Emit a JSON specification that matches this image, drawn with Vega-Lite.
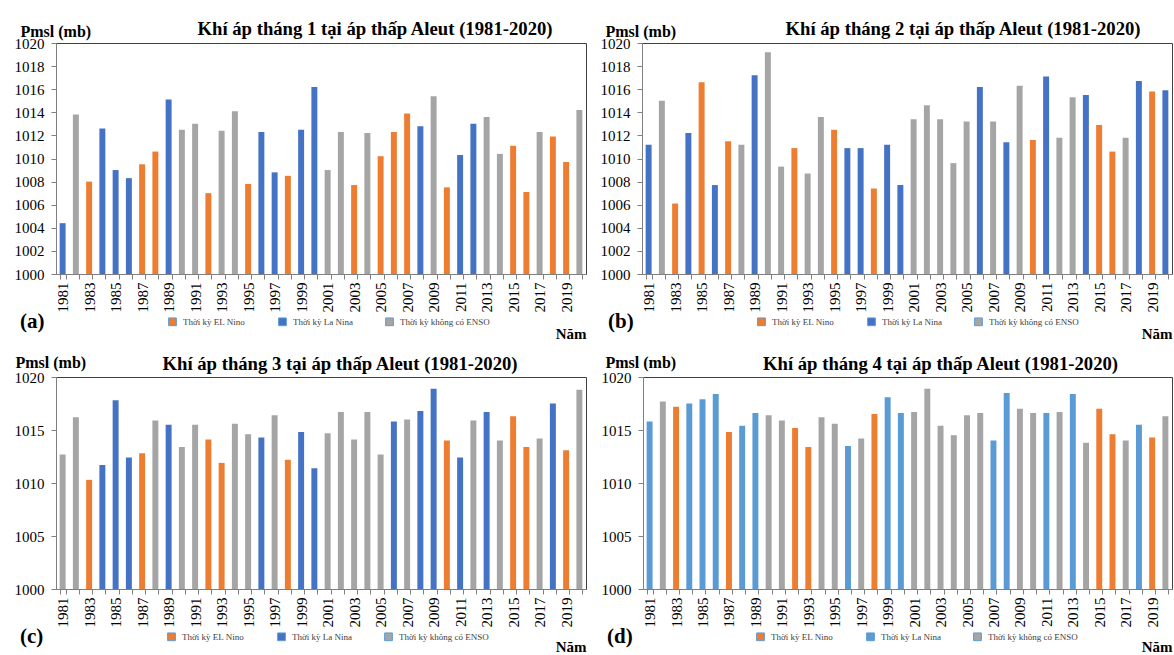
{
  "$schema": "https://vega.github.io/schema/vega-lite/v6.json",
  "padding": {"left": 13, "top": 19, "right": 0, "bottom": 0},
  "background": "white",
  "config": {
    "font": "Liberation Serif",
    "view": {"stroke": "#404040", "strokeWidth": 1},
    "axis": {"labelFont": "Liberation Serif", "labelFontSize": 15, "labelColor": "#000000", "titleFont": "Liberation Serif", "titleFontWeight": "bold", "titleColor": "#000000", "domainColor": "#808080", "tickColor": "#808080", "grid": false, "tickSize": 5},
    "title": {"font": "Liberation Serif", "fontSize": 18.7, "fontWeight": "bold", "color": "#000000", "frame": "group", "dy": 20},
    "legend": {"orient": "none", "direction": "horizontal", "titleOrient": "left", "titleFont": "Liberation Serif", "titleFontSize": 21, "titleFontWeight": "bold", "titleColor": "#000000", "titlePadding": 123, "symbolType": "square", "symbolSize": 60, "symbolStrokeColor": "#5B9BD5", "symbolStrokeWidth": 1, "labelFont": "Liberation Serif", "labelFontSize": 9, "labelColor": "#404040", "labelOffset": 6, "columnPadding": 30}
  },
  "datasets": {
    "m1": [
      {"nam": 1981, "p": 1004.4, "ky": "Thời kỳ La Nina"},
      {"nam": 1982, "p": 1013.8, "ky": "Thời kỳ không có ENSO"},
      {"nam": 1983, "p": 1008.0, "ky": "Thời kỳ EL Nino"},
      {"nam": 1984, "p": 1012.6, "ky": "Thời kỳ La Nina"},
      {"nam": 1985, "p": 1009.0, "ky": "Thời kỳ La Nina"},
      {"nam": 1986, "p": 1008.3, "ky": "Thời kỳ La Nina"},
      {"nam": 1987, "p": 1009.5, "ky": "Thời kỳ EL Nino"},
      {"nam": 1988, "p": 1010.6, "ky": "Thời kỳ EL Nino"},
      {"nam": 1989, "p": 1015.1, "ky": "Thời kỳ La Nina"},
      {"nam": 1990, "p": 1012.5, "ky": "Thời kỳ không có ENSO"},
      {"nam": 1991, "p": 1013.0, "ky": "Thời kỳ không có ENSO"},
      {"nam": 1992, "p": 1007.0, "ky": "Thời kỳ EL Nino"},
      {"nam": 1993, "p": 1012.4, "ky": "Thời kỳ không có ENSO"},
      {"nam": 1994, "p": 1014.1, "ky": "Thời kỳ không có ENSO"},
      {"nam": 1995, "p": 1007.8, "ky": "Thời kỳ EL Nino"},
      {"nam": 1996, "p": 1012.3, "ky": "Thời kỳ La Nina"},
      {"nam": 1997, "p": 1008.8, "ky": "Thời kỳ La Nina"},
      {"nam": 1998, "p": 1008.5, "ky": "Thời kỳ EL Nino"},
      {"nam": 1999, "p": 1012.5, "ky": "Thời kỳ La Nina"},
      {"nam": 2000, "p": 1016.2, "ky": "Thời kỳ La Nina"},
      {"nam": 2001, "p": 1009.0, "ky": "Thời kỳ không có ENSO"},
      {"nam": 2002, "p": 1012.3, "ky": "Thời kỳ không có ENSO"},
      {"nam": 2003, "p": 1007.7, "ky": "Thời kỳ EL Nino"},
      {"nam": 2004, "p": 1012.2, "ky": "Thời kỳ không có ENSO"},
      {"nam": 2005, "p": 1010.2, "ky": "Thời kỳ EL Nino"},
      {"nam": 2006, "p": 1012.3, "ky": "Thời kỳ EL Nino"},
      {"nam": 2007, "p": 1013.9, "ky": "Thời kỳ EL Nino"},
      {"nam": 2008, "p": 1012.8, "ky": "Thời kỳ La Nina"},
      {"nam": 2009, "p": 1015.4, "ky": "Thời kỳ không có ENSO"},
      {"nam": 2010, "p": 1007.5, "ky": "Thời kỳ EL Nino"},
      {"nam": 2011, "p": 1010.3, "ky": "Thời kỳ La Nina"},
      {"nam": 2012, "p": 1013.0, "ky": "Thời kỳ La Nina"},
      {"nam": 2013, "p": 1013.6, "ky": "Thời kỳ không có ENSO"},
      {"nam": 2014, "p": 1010.4, "ky": "Thời kỳ không có ENSO"},
      {"nam": 2015, "p": 1011.1, "ky": "Thời kỳ EL Nino"},
      {"nam": 2016, "p": 1007.1, "ky": "Thời kỳ EL Nino"},
      {"nam": 2017, "p": 1012.3, "ky": "Thời kỳ không có ENSO"},
      {"nam": 2018, "p": 1011.9, "ky": "Thời kỳ EL Nino"},
      {"nam": 2019, "p": 1009.7, "ky": "Thời kỳ EL Nino"},
      {"nam": 2020, "p": 1014.2, "ky": "Thời kỳ không có ENSO"}
    ],
    "m2": [
      {"nam": 1981, "p": 1011.2, "ky": "Thời kỳ La Nina"},
      {"nam": 1982, "p": 1015.0, "ky": "Thời kỳ không có ENSO"},
      {"nam": 1983, "p": 1006.1, "ky": "Thời kỳ EL Nino"},
      {"nam": 1984, "p": 1012.2, "ky": "Thời kỳ La Nina"},
      {"nam": 1985, "p": 1016.6, "ky": "Thời kỳ EL Nino"},
      {"nam": 1986, "p": 1007.7, "ky": "Thời kỳ La Nina"},
      {"nam": 1987, "p": 1011.5, "ky": "Thời kỳ EL Nino"},
      {"nam": 1988, "p": 1011.2, "ky": "Thời kỳ không có ENSO"},
      {"nam": 1989, "p": 1017.2, "ky": "Thời kỳ La Nina"},
      {"nam": 1990, "p": 1019.2, "ky": "Thời kỳ không có ENSO"},
      {"nam": 1991, "p": 1009.3, "ky": "Thời kỳ không có ENSO"},
      {"nam": 1992, "p": 1010.9, "ky": "Thời kỳ EL Nino"},
      {"nam": 1993, "p": 1008.7, "ky": "Thời kỳ không có ENSO"},
      {"nam": 1994, "p": 1013.6, "ky": "Thời kỳ không có ENSO"},
      {"nam": 1995, "p": 1012.5, "ky": "Thời kỳ EL Nino"},
      {"nam": 1996, "p": 1010.9, "ky": "Thời kỳ La Nina"},
      {"nam": 1997, "p": 1010.9, "ky": "Thời kỳ La Nina"},
      {"nam": 1998, "p": 1007.4, "ky": "Thời kỳ EL Nino"},
      {"nam": 1999, "p": 1011.2, "ky": "Thời kỳ La Nina"},
      {"nam": 2000, "p": 1007.7, "ky": "Thời kỳ La Nina"},
      {"nam": 2001, "p": 1013.4, "ky": "Thời kỳ không có ENSO"},
      {"nam": 2002, "p": 1014.6, "ky": "Thời kỳ không có ENSO"},
      {"nam": 2003, "p": 1013.4, "ky": "Thời kỳ không có ENSO"},
      {"nam": 2004, "p": 1009.6, "ky": "Thời kỳ không có ENSO"},
      {"nam": 2005, "p": 1013.2, "ky": "Thời kỳ không có ENSO"},
      {"nam": 2006, "p": 1016.2, "ky": "Thời kỳ La Nina"},
      {"nam": 2007, "p": 1013.2, "ky": "Thời kỳ không có ENSO"},
      {"nam": 2008, "p": 1011.4, "ky": "Thời kỳ La Nina"},
      {"nam": 2009, "p": 1016.3, "ky": "Thời kỳ không có ENSO"},
      {"nam": 2010, "p": 1011.6, "ky": "Thời kỳ EL Nino"},
      {"nam": 2011, "p": 1017.1, "ky": "Thời kỳ La Nina"},
      {"nam": 2012, "p": 1011.8, "ky": "Thời kỳ không có ENSO"},
      {"nam": 2013, "p": 1015.3, "ky": "Thời kỳ không có ENSO"},
      {"nam": 2014, "p": 1015.5, "ky": "Thời kỳ La Nina"},
      {"nam": 2015, "p": 1012.9, "ky": "Thời kỳ EL Nino"},
      {"nam": 2016, "p": 1010.6, "ky": "Thời kỳ EL Nino"},
      {"nam": 2017, "p": 1011.8, "ky": "Thời kỳ không có ENSO"},
      {"nam": 2018, "p": 1016.7, "ky": "Thời kỳ La Nina"},
      {"nam": 2019, "p": 1015.8, "ky": "Thời kỳ EL Nino"},
      {"nam": 2020, "p": 1015.9, "ky": "Thời kỳ La Nina"}
    ],
    "m3": [
      {"nam": 1981, "p": 1012.7, "ky": "Thời kỳ không có ENSO"},
      {"nam": 1982, "p": 1016.2, "ky": "Thời kỳ không có ENSO"},
      {"nam": 1983, "p": 1010.3, "ky": "Thời kỳ EL Nino"},
      {"nam": 1984, "p": 1011.7, "ky": "Thời kỳ La Nina"},
      {"nam": 1985, "p": 1017.8, "ky": "Thời kỳ La Nina"},
      {"nam": 1986, "p": 1012.4, "ky": "Thời kỳ La Nina"},
      {"nam": 1987, "p": 1012.8, "ky": "Thời kỳ EL Nino"},
      {"nam": 1988, "p": 1015.9, "ky": "Thời kỳ không có ENSO"},
      {"nam": 1989, "p": 1015.5, "ky": "Thời kỳ La Nina"},
      {"nam": 1990, "p": 1013.4, "ky": "Thời kỳ không có ENSO"},
      {"nam": 1991, "p": 1015.5, "ky": "Thời kỳ không có ENSO"},
      {"nam": 1992, "p": 1014.1, "ky": "Thời kỳ EL Nino"},
      {"nam": 1993, "p": 1011.9, "ky": "Thời kỳ EL Nino"},
      {"nam": 1994, "p": 1015.6, "ky": "Thời kỳ không có ENSO"},
      {"nam": 1995, "p": 1014.6, "ky": "Thời kỳ không có ENSO"},
      {"nam": 1996, "p": 1014.3, "ky": "Thời kỳ La Nina"},
      {"nam": 1997, "p": 1016.4, "ky": "Thời kỳ không có ENSO"},
      {"nam": 1998, "p": 1012.2, "ky": "Thời kỳ EL Nino"},
      {"nam": 1999, "p": 1014.8, "ky": "Thời kỳ La Nina"},
      {"nam": 2000, "p": 1011.4, "ky": "Thời kỳ La Nina"},
      {"nam": 2001, "p": 1014.7, "ky": "Thời kỳ không có ENSO"},
      {"nam": 2002, "p": 1016.7, "ky": "Thời kỳ không có ENSO"},
      {"nam": 2003, "p": 1014.1, "ky": "Thời kỳ không có ENSO"},
      {"nam": 2004, "p": 1016.7, "ky": "Thời kỳ không có ENSO"},
      {"nam": 2005, "p": 1012.7, "ky": "Thời kỳ không có ENSO"},
      {"nam": 2006, "p": 1015.8, "ky": "Thời kỳ La Nina"},
      {"nam": 2007, "p": 1016.0, "ky": "Thời kỳ không có ENSO"},
      {"nam": 2008, "p": 1016.8, "ky": "Thời kỳ La Nina"},
      {"nam": 2009, "p": 1018.9, "ky": "Thời kỳ La Nina"},
      {"nam": 2010, "p": 1014.0, "ky": "Thời kỳ EL Nino"},
      {"nam": 2011, "p": 1012.4, "ky": "Thời kỳ La Nina"},
      {"nam": 2012, "p": 1015.9, "ky": "Thời kỳ không có ENSO"},
      {"nam": 2013, "p": 1016.7, "ky": "Thời kỳ La Nina"},
      {"nam": 2014, "p": 1014.0, "ky": "Thời kỳ không có ENSO"},
      {"nam": 2015, "p": 1016.3, "ky": "Thời kỳ EL Nino"},
      {"nam": 2016, "p": 1013.4, "ky": "Thời kỳ EL Nino"},
      {"nam": 2017, "p": 1014.2, "ky": "Thời kỳ không có ENSO"},
      {"nam": 2018, "p": 1017.5, "ky": "Thời kỳ La Nina"},
      {"nam": 2019, "p": 1013.1, "ky": "Thời kỳ EL Nino"},
      {"nam": 2020, "p": 1018.8, "ky": "Thời kỳ không có ENSO"}
    ],
    "m4": [
      {"nam": 1981, "p": 1015.8, "ky": "Thời kỳ La Nina"},
      {"nam": 1982, "p": 1017.7, "ky": "Thời kỳ không có ENSO"},
      {"nam": 1983, "p": 1017.2, "ky": "Thời kỳ EL Nino"},
      {"nam": 1984, "p": 1017.5, "ky": "Thời kỳ La Nina"},
      {"nam": 1985, "p": 1017.9, "ky": "Thời kỳ La Nina"},
      {"nam": 1986, "p": 1018.4, "ky": "Thời kỳ La Nina"},
      {"nam": 1987, "p": 1014.8, "ky": "Thời kỳ EL Nino"},
      {"nam": 1988, "p": 1015.4, "ky": "Thời kỳ La Nina"},
      {"nam": 1989, "p": 1016.6, "ky": "Thời kỳ La Nina"},
      {"nam": 1990, "p": 1016.4, "ky": "Thời kỳ không có ENSO"},
      {"nam": 1991, "p": 1015.9, "ky": "Thời kỳ không có ENSO"},
      {"nam": 1992, "p": 1015.2, "ky": "Thời kỳ EL Nino"},
      {"nam": 1993, "p": 1013.4, "ky": "Thời kỳ EL Nino"},
      {"nam": 1994, "p": 1016.2, "ky": "Thời kỳ không có ENSO"},
      {"nam": 1995, "p": 1015.6, "ky": "Thời kỳ không có ENSO"},
      {"nam": 1996, "p": 1013.5, "ky": "Thời kỳ La Nina"},
      {"nam": 1997, "p": 1014.2, "ky": "Thời kỳ không có ENSO"},
      {"nam": 1998, "p": 1016.5, "ky": "Thời kỳ EL Nino"},
      {"nam": 1999, "p": 1018.1, "ky": "Thời kỳ La Nina"},
      {"nam": 2000, "p": 1016.6, "ky": "Thời kỳ La Nina"},
      {"nam": 2001, "p": 1016.7, "ky": "Thời kỳ không có ENSO"},
      {"nam": 2002, "p": 1018.9, "ky": "Thời kỳ không có ENSO"},
      {"nam": 2003, "p": 1015.4, "ky": "Thời kỳ không có ENSO"},
      {"nam": 2004, "p": 1014.5, "ky": "Thời kỳ không có ENSO"},
      {"nam": 2005, "p": 1016.4, "ky": "Thời kỳ không có ENSO"},
      {"nam": 2006, "p": 1016.6, "ky": "Thời kỳ không có ENSO"},
      {"nam": 2007, "p": 1014.0, "ky": "Thời kỳ La Nina"},
      {"nam": 2008, "p": 1018.5, "ky": "Thời kỳ La Nina"},
      {"nam": 2009, "p": 1017.0, "ky": "Thời kỳ không có ENSO"},
      {"nam": 2010, "p": 1016.6, "ky": "Thời kỳ không có ENSO"},
      {"nam": 2011, "p": 1016.6, "ky": "Thời kỳ La Nina"},
      {"nam": 2012, "p": 1016.7, "ky": "Thời kỳ không có ENSO"},
      {"nam": 2013, "p": 1018.4, "ky": "Thời kỳ La Nina"},
      {"nam": 2014, "p": 1013.8, "ky": "Thời kỳ không có ENSO"},
      {"nam": 2015, "p": 1017.0, "ky": "Thời kỳ EL Nino"},
      {"nam": 2016, "p": 1014.6, "ky": "Thời kỳ EL Nino"},
      {"nam": 2017, "p": 1014.0, "ky": "Thời kỳ không có ENSO"},
      {"nam": 2018, "p": 1015.5, "ky": "Thời kỳ La Nina"},
      {"nam": 2019, "p": 1014.3, "ky": "Thời kỳ EL Nino"},
      {"nam": 2020, "p": 1016.3, "ky": "Thời kỳ không có ENSO"}
    ]
  },
  "spacing": 11,
  "resolve": {"scale": {"color": "independent"}, "legend": {"color": "independent"}},
  "vconcat": [
    {
      "spacing": 11,
      "resolve": {"scale": {"color": "independent"}, "legend": {"color": "independent"}},
      "hconcat": [
        {
          "width": 530, "height": 231,
          "data": {"name": "m1"},
          "title": {"text": "Khí áp tháng 1 tại áp thấp Aleut (1981-2020)", "dx": 54, "offset": 4},
          "mark": {"type": "bar"},
          "encoding": {
            "x": {"field": "nam", "type": "ordinal", "scale": {"paddingInner": 0.55, "paddingOuter": 0.275},
                  "axis": {"title": "Năm", "labelAngle": -90, "labelOverlap": false, "tickBand": "extent", "labelExpr": "datum.value % 2 == 1 ? datum.label : ''", "labelPadding": 3, "titleFontSize": 15, "titleX": 530, "titleY": 64, "titleAlign": "right", "titleBaseline": "alphabetic"}},
            "y": {"field": "p", "type": "quantitative", "scale": {"domain": [1000, 1020], "nice": false, "zero": false},
                  "axis": {"title": "Pmsl (mb)", "format": "d", "values": [1000, 1002, 1004, 1006, 1008, 1010, 1012, 1014, 1016, 1018, 1020], "labelPadding": 7, "titleAngle": 0, "titleFontSize": 16, "titleX": -36, "titleY": -7, "titleAlign": "left", "titleBaseline": "alphabetic"}},
            "y2": {"datum": 1000},
            "color": {"field": "ky", "type": "nominal",
                      "scale": {"domain": ["Thời kỳ EL Nino", "Thời kỳ La Nina", "Thời kỳ không có ENSO"], "range": ["#ED7D31", "#4472C4", "#A5A5A5"]},
                      "legend": {"title": "(a)", "legendX": -36, "legendY": 274}}
          }
        },
        {
          "width": 530, "height": 231,
          "data": {"name": "m2"},
          "title": {"text": "Khí áp tháng 2 tại áp thấp Aleut (1981-2020)", "dx": 56, "offset": 4},
          "mark": {"type": "bar"},
          "encoding": {
            "x": {"field": "nam", "type": "ordinal", "scale": {"paddingInner": 0.55, "paddingOuter": 0.275},
                  "axis": {"title": "Năm", "labelAngle": -90, "labelOverlap": false, "tickBand": "extent", "labelExpr": "datum.value % 2 == 1 ? datum.label : ''", "labelPadding": 3, "titleFontSize": 15, "titleX": 530, "titleY": 64, "titleAlign": "right", "titleBaseline": "alphabetic"}},
            "y": {"field": "p", "type": "quantitative", "scale": {"domain": [1000, 1020], "nice": false, "zero": false},
                  "axis": {"title": "Pmsl (mb)", "format": "d", "values": [1000, 1002, 1004, 1006, 1008, 1010, 1012, 1014, 1016, 1018, 1020], "labelPadding": 7, "titleAngle": 0, "titleFontSize": 16, "titleX": -37, "titleY": -7, "titleAlign": "left", "titleBaseline": "alphabetic"}},
            "y2": {"datum": 1000},
            "color": {"field": "ky", "type": "nominal",
                      "scale": {"domain": ["Thời kỳ EL Nino", "Thời kỳ La Nina", "Thời kỳ không có ENSO"], "range": ["#ED7D31", "#4472C4", "#A5A5A5"]},
                      "legend": {"title": "(b)", "legendX": -34, "legendY": 274}}
          }
        }
      ]
    },
    {
      "spacing": 12,
      "resolve": {"scale": {"color": "independent"}, "legend": {"color": "independent"}},
      "hconcat": [
        {
          "width": 530, "height": 212,
          "data": {"name": "m3"},
          "title": {"text": "Khí áp tháng 3 tại áp thấp Aleut (1981-2020)", "dx": 19, "dy": 24, "offset": 4},
          "mark": {"type": "bar"},
          "encoding": {
            "x": {"field": "nam", "type": "ordinal", "scale": {"paddingInner": 0.55, "paddingOuter": 0.275},
                  "axis": {"title": "Năm", "labelAngle": -90, "labelOverlap": false, "tickBand": "extent", "labelExpr": "datum.value % 2 == 1 ? datum.label : ''", "labelPadding": 3, "titleFontSize": 15, "titleX": 530, "titleY": 62, "titleAlign": "right", "titleBaseline": "alphabetic"}},
            "y": {"field": "p", "type": "quantitative", "scale": {"domain": [1000, 1020], "nice": false, "zero": false},
                  "axis": {"title": "Pmsl (mb)", "format": "d", "values": [1000, 1005, 1010, 1015, 1020], "labelPadding": 7, "titleAngle": 0, "titleFontSize": 16, "titleX": -41, "titleY": -10, "titleAlign": "left", "titleBaseline": "alphabetic"}},
            "y2": {"datum": 1000},
            "color": {"field": "ky", "type": "nominal",
                      "scale": {"domain": ["Thời kỳ EL Nino", "Thời kỳ La Nina", "Thời kỳ không có ENSO"], "range": ["#ED7D31", "#4472C4", "#A5A5A5"]},
                      "legend": {"title": "(c)", "legendX": -36, "legendY": 255}}
          }
        },
        {
          "width": 529, "height": 212,
          "data": {"name": "m4"},
          "title": {"text": "Khí áp tháng 4 tại áp thấp Aleut (1981-2020)", "dx": 33, "dy": 24, "offset": 4},
          "mark": {"type": "bar"},
          "encoding": {
            "x": {"field": "nam", "type": "ordinal", "scale": {"paddingInner": 0.55, "paddingOuter": 0.275},
                  "axis": {"title": "Năm", "labelAngle": -90, "labelOverlap": false, "tickBand": "extent", "labelExpr": "datum.value % 2 == 1 ? datum.label : ''", "labelPadding": 3, "titleFontSize": 15, "titleX": 529, "titleY": 62, "titleAlign": "right", "titleBaseline": "alphabetic"}},
            "y": {"field": "p", "type": "quantitative", "scale": {"domain": [1000, 1020], "nice": false, "zero": false},
                  "axis": {"title": "Pmsl (mb)", "format": "d", "values": [1000, 1005, 1010, 1015, 1020], "labelPadding": 7, "titleAngle": 0, "titleFontSize": 16, "titleX": -38, "titleY": -10, "titleAlign": "left", "titleBaseline": "alphabetic"}},
            "y2": {"datum": 1000},
            "color": {"field": "ky", "type": "nominal",
                      "scale": {"domain": ["Thời kỳ EL Nino", "Thời kỳ La Nina", "Thời kỳ không có ENSO"], "range": ["#ED7D31", "#5B9BD5", "#A5A5A5"]},
                      "legend": {"title": "(d)", "legendX": -36, "legendY": 255}}
          }
        }
      ]
    }
  ]
}
